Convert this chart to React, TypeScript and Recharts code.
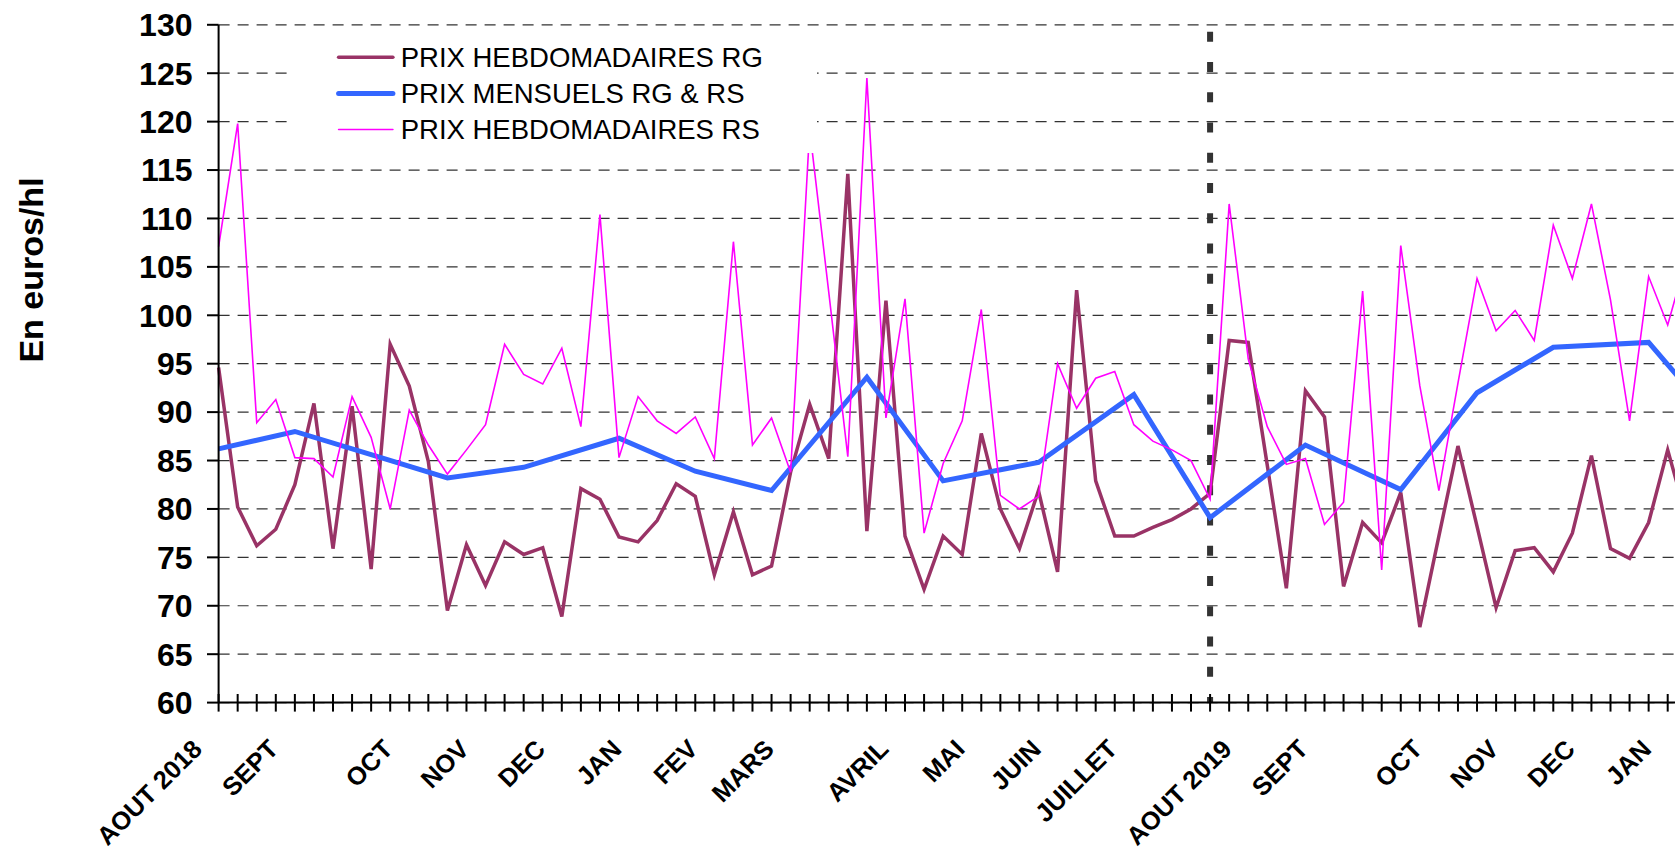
import React from 'react';
import { LineChart, Line, XAxis, YAxis, CartesianGrid, ReferenceLine } from 'recharts';

// ---- data ----
const weekCategories: string[] = [
  'S00','S01','S02','S03','S04','S05','S06','S07','S08','S09',
  'S10','S11','S12','S13','S14','S15','S16','S17','S18','S19',
  'S20','S21','S22','S23','S24','S25','S26','S27','S28','S29',
  'S30','S31','S32','S33','S34','S35','S36','S37','S38','S39',
  'S40','S41','S42','S43','S44','S45','S46','S47','S48','S49',
  'S50','S51','S52','S53','S54','S55','S56','S57','S58','S59',
  'S60','S61','S62','S63','S64','S65','S66','S67','S68','S69',
  'S70','S71','S72','S73','S74','S75','S76','S77','S78','S79',
];

const prixHebdoRG: number[] = [
  94.6, 80.2, 76.2, 77.9, 82.5, 90.9, 75.9, 90.6, 73.8, 97.0,
  92.7, 84.9, 69.5, 76.3, 72.1, 76.6, 75.3, 76.0, 68.9, 82.1,
  81.0, 77.1, 76.6, 78.8, 82.6, 81.3, 73.2, 79.7, 73.2, 74.1,
  83.8, 90.8, 85.2, 114.6, 77.7, 101.5, 77.2, 71.7, 77.2, 75.3,
  87.8, 80.0, 75.9, 81.9, 73.5, 102.6, 82.9, 77.2, 77.2, 78.1,
  78.9, 80.0, 81.6, 97.4, 97.2, 84.5, 71.8, 92.2, 89.5, 72.0,
  78.6, 76.5, 81.7, 67.8, 77.2, 86.5, 78.2, 69.8, 75.7, 76.0,
  73.5, 77.5, 85.5, 75.9, 74.9, 78.6, 86.1, 79.0,
];

const prixHebdoRS: number[] = [
  107.1, 119.8, 88.9, 91.3, 85.3, 85.2, 83.3, 91.6, 87.4, 80.0,
  90.2, 86.6, 83.6, 86.1, 88.7, 97.0, 93.9, 92.9, 96.6, 88.5,
  110.4, 85.3, 91.6, 89.1, 87.8, 89.5, 85.2, 107.6, 86.6, 89.4,
  83.8, 119.2, 102.4, 85.4, 124.5, 89.4, 101.7, 77.5, 84.7, 89.1,
  100.6, 81.4, 80.0, 81.3, 95.0, 90.4, 93.5, 94.2, 88.7, 87.0,
  86.1, 85.0, 81.0, 111.5, 95.5, 88.5, 84.6, 85.2, 78.4, 80.7,
  102.5, 73.7, 107.2, 92.7, 81.9, 93.0, 103.8, 98.4, 100.5, 97.4,
  109.3, 103.8, 111.5, 101.6, 89.1, 104.0, 99.0, 106.0,
];

const mensuelWeekIndex: number[] = [0, 4, 8, 12, 16, 21, 25, 29, 34, 38, 43, 48, 52, 57, 62, 66, 70, 75, 79];
const prixMensuels: number[] = [86.2, 88.0, 85.6, 83.2, 84.3, 87.3, 83.9, 81.9, 93.6, 82.9, 84.8, 91.8, 79.1, 86.6, 82.0, 92.0, 96.7, 97.2, 88.0];

const monthTickIndex: number[] = [0, 4, 10, 14, 18, 22, 26, 30, 36, 40, 44, 48, 54, 58, 64, 68, 72, 76];
const monthTickLabels: string[] = [
  'AOUT 2018', 'SEPT', 'OCT', 'NOV', 'DEC', 'JAN', 'FEV', 'MARS', 'AVRIL',
  'MAI', 'JUIN', 'JUILLET', 'AOUT 2019', 'SEPT', 'OCT', 'NOV', 'DEC', 'JAN',
];

const yTicks: number[] = [60, 65, 70, 75, 80, 85, 90, 95, 100, 105, 110, 115, 120, 125, 130];
const separatorWeekIndex = 52;

const seriesNames = ['PRIX HEBDOMADAIRES RG', 'PRIX MENSUELS RG & RS', 'PRIX HEBDOMADAIRES RS'];

// ---- build table ----
const data = weekCategories.map((w, i) => {
  const mi = mensuelWeekIndex.indexOf(i);
  return {
    week: w,
    rg: i < prixHebdoRG.length ? prixHebdoRG[i] : null,
    rs: i < prixHebdoRS.length ? prixHebdoRS[i] : null,
    mensuel: mi >= 0 ? prixMensuels[mi] : null,
  };
});

const labelByWeek: Record<string, string> = {};
monthTickIndex.forEach((idx, k) => {
  labelByWeek[weekCategories[idx]] = monthTickLabels[k];
});

const FONT = '"Liberation Sans", Arial, Helvetica, sans-serif';
const COLOR_RG = '#993366';
const COLOR_M = '#3366FF';
const COLOR_RS = '#FF00FF';

const XTick = (props: any) => {
  const { x, y, payload } = props;
  const label = labelByWeek[payload.value];
  const ax = x - 15;
  const ay = y + 48;
  return (
    <g>
      <line x1={x} x2={x} y1={y - 8.6} y2={y + 9} stroke="#000" strokeWidth={2} />
      {label ? (
        <text
          x={ax}
          y={ay}
          transform={`rotate(-45 ${ax} ${ay})`}
          textAnchor="end"
          fontSize={25.5}
          fontWeight="bold"
          fontFamily={FONT}
          fill="#000"
        >
          {label}
        </text>
      ) : null}
    </g>
  );
};

const YTitle = (props: any) => {
  const vb = props.viewBox || { x: 0 };
  const tx = (vb.x || 0) + 43;
  const ty = 270;
  return (
    <text
      x={tx}
      y={ty}
      transform={`rotate(-90 ${tx} ${ty})`}
      textAnchor="middle"
      fontSize={34}
      fontWeight="bold"
      fontFamily={FONT}
      fill="#000"
    >
      En euros/hl
    </text>
  );
};

const legendRows = [
  { name: seriesNames[0], color: COLOR_RG, width: 3.5 },
  { name: seriesNames[1], color: COLOR_M, width: 5 },
  { name: seriesNames[2], color: COLOR_RS, width: 1.6 },
];

export default function App() {
  return (
    <div
      style={{
        position: 'fixed',
        left: 0,
        top: 0,
        width: 1675,
        height: 853,
        overflow: 'hidden',
        background: '#fff',
      }}
    >
      <LineChart
        width={1740}
        height={853}
        data={data}
        margin={{ top: 24.8, right: 15.1, bottom: 0, left: 0 }}
      >
        <CartesianGrid vertical={false} stroke="#333" strokeWidth={1.2} strokeDasharray="11 8" />
        <XAxis
          dataKey="week"
          interval={0}
          tickLine={false}
          tickSize={0}
          tickMargin={0}
          height={150.4}
          axisLine={{ stroke: '#000', strokeWidth: 2 }}
          tick={<XTick />}
        />
        <YAxis
          domain={[60, 130]}
          ticks={yTicks}
          width={218.6}
          tickSize={11.6}
          tickMargin={14.5}
          axisLine={{ stroke: '#000', strokeWidth: 2 }}
          tickLine={{ stroke: '#000', strokeWidth: 2 }}
          tick={{ fontSize: 32, fontWeight: 'bold', fill: '#000', fontFamily: FONT }}
          label={{ content: (p: any) => <YTitle {...p} /> }}
        />
        <ReferenceLine
          x={weekCategories[separatorWeekIndex]}
          stroke="#333"
          strokeWidth={6}
          strokeDasharray="10 20.24"
          strokeDashoffset={4.4}
        />
        <Line
          type="linear"
          dataKey="rg"
          name={seriesNames[0]}
          stroke={COLOR_RG}
          strokeWidth={3.5}
          dot={false}
          activeDot={false}
          isAnimationActive={false}
        />
        <Line
          type="linear"
          dataKey="mensuel"
          name={seriesNames[1]}
          stroke={COLOR_M}
          strokeWidth={5}
          dot={false}
          activeDot={false}
          connectNulls
          isAnimationActive={false}
        />
        <Line
          type="linear"
          dataKey="rs"
          name={seriesNames[2]}
          stroke={COLOR_RS}
          strokeWidth={1.6}
          dot={false}
          activeDot={false}
          isAnimationActive={false}
        />
      </LineChart>
      <div
        style={{
          position: 'absolute',
          left: 287,
          top: 38,
          width: 530,
          height: 115,
          background: '#fff',
        }}
      >
        <svg width={530} height={115}>
          {legendRows.map((r, k) => {
            const cy = 19.3 + k * 36.1;
            return (
              <g key={r.name}>
                <line
                  x1={51.6}
                  x2={105.9}
                  y1={cy}
                  y2={cy}
                  stroke={r.color}
                  strokeWidth={r.width}
                  strokeLinecap="round"
                />
                <text x={113.7} y={cy} dy="0.355em" fontSize={27.5} fontFamily={FONT} fill="#000">
                  {r.name}
                </text>
              </g>
            );
          })}
        </svg>
      </div>
    </div>
  );
}
